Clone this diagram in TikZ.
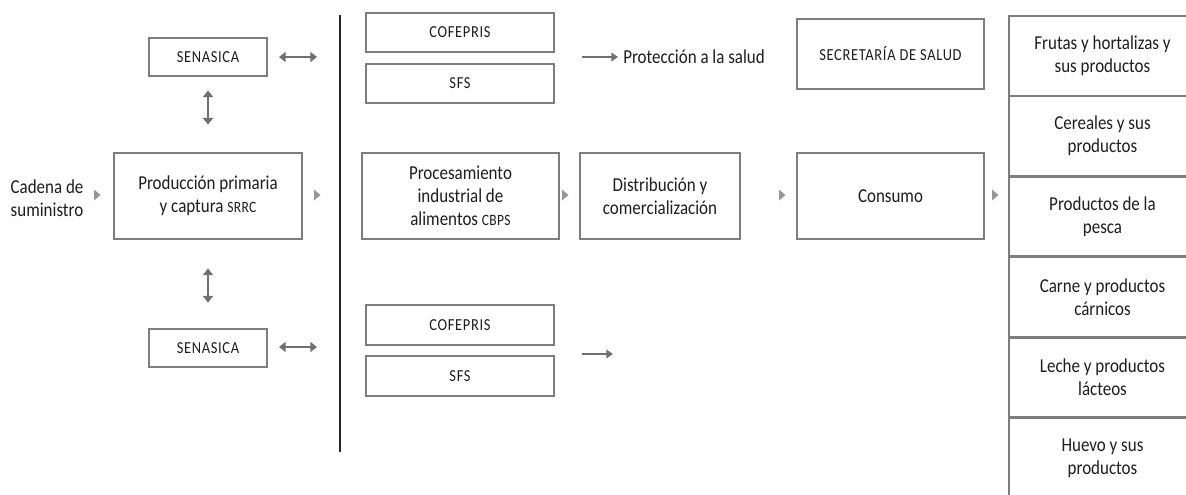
\documentclass[tikz,border=0pt]{standalone}
\usepackage{fontspec}
\setmainfont{Carlito}[FakeStretch=0.86]
\usetikzlibrary{arrows.meta,calc}
\definecolor{boxgray}{RGB}{125,125,125}
\definecolor{arrgray}{RGB}{112,112,112}
\definecolor{trigray}{RGB}{150,150,150}
\definecolor{txt}{RGB}{30,30,30}
\newcommand{\mainsz}{\fontsize{14.8}{17.3}\selectfont}
\newcommand{\capsname}[1]{{\fontsize{12.6}{14}\selectfont\addfontfeature{LetterSpace=4}#1}}
\newcommand{\minicaps}[1]{{\fontsize{11.8}{13}\selectfont\addfontfeature{LetterSpace=2}#1}}
\begin{document}
\begin{tikzpicture}[x=0.75pt,y=-0.75pt,
  box/.style 2 args={draw=boxgray,line width=2.1pt,minimum width=#1*0.75pt,minimum height=#2*0.75pt,
    inner sep=0pt,align=center,text=txt,font=\mainsz},
  lbl/.style={inner sep=0pt,align=center,text=txt,font=\mainsz},
  dbl/.style={draw=arrgray,line width=1.9pt,{Triangle[width=7.5pt,length=5pt]}-{Triangle[width=7.5pt,length=5pt]}},
  sgl/.style={draw=arrgray,line width=1.5pt,-{Triangle[width=6.5pt,length=5pt]}},
  tri/.style={fill=trigray},
  divider/.style={draw=black!85,line width=0.8pt}]
\clip (0,0) rectangle (1186,494);
\fill[white] (0,0) rectangle (1186,494);

% left part
\node[lbl] (cadena) at (47,198) {Cadena de\\suministro};
\node[box={118}{38}] (sen1) at (208,57) {\capsname{SENASICA}};
\node[box={118}{38}] (sen2) at (208,348) {\capsname{SENASICA}};
\node[box={188}{86}] (prod) at (208,196) {Producción primaria\\y captura \minicaps{SRRC}};

% divider
\coordinate (vtop) at (340,15);
\coordinate (vbot) at (340,452);
\draw[divider] (vtop) -- (vbot);

% middle column
\node[box={188}{39}] (cof1) at (460,32.5) {\capsname{COFEPRIS}};
\node[box={188}{39}] (sfs1) at (460,83.5) {\capsname{SFS}};
\node[box={188}{40}] (cof2) at (460,325) {\capsname{COFEPRIS}};
\node[box={188}{40}] (sfs2) at (460,376) {\capsname{SFS}};
\node[box={197}{86}] (proc) at (460.5,196) {Procesamiento\\industrial de\\alimentos \minicaps{CBPS}};
\node[box={160}{86}] (dist) at (660,196) {Distribución y\\comercialización};
\node[box={187}{86}] (cons) at (890.5,196) {Consumo};
\node[box={187}{70}] (secr) at (890.5,54) {\capsname{SECRETARÍA DE SALUD}};
\node[lbl,anchor=west] (prot) at (623,57) {Protección a la salud};

% right column
\node[box={187}{80}] (r1) at (1102.5,56) {Frutas y hortalizas y\\sus productos};
\node[box={187}{80}] (r2) at (1102.5,136) {Cereales y sus\\productos};
\node[box={187}{80}] (r3) at (1102.5,216.5) {Productos de la\\pesca};
\node[box={187}{80}] (r4) at (1102.5,297) {Carne y productos\\cárnicos};
\node[box={187}{80}] (r5) at (1102.5,377.5) {Leche y productos\\lácteos};
\node[box={187}{80}] (r6) at (1102.5,458) {Huevo y sus\\productos};

% arrows
\coordinate (a1s) at (279,57);
\coordinate (a1e) at (317,57);
\draw[dbl] (a1s) -- (a1e);
\coordinate (a4s) at (279,347);
\coordinate (a4e) at (317,347);
\draw[dbl] (a4s) -- (a4e);
\draw[dbl] ($(sen1.south)+(0,13)$) -- ($(prod.north)+(0,-27)$);
\draw[dbl] ($(prod.south)+(0,28)$) -- ($(sen2.north)+(0,-25)$);
\coordinate (a5s) at (582,57);
\draw[sgl] (a5s) -- ($(prot.west)+(-5,0)$);
\coordinate (a6s) at (582,354);
\coordinate (a6e) at (613,354);
\draw[sgl] (a6s) -- (a6e);

% flow triangles
\foreach \n/\x in {t1/97,t2/317,t3/565,t4/782,t5/995}{
  \coordinate (\n) at (\x,195);
  \fill[tri] (\n) ++(-3,-5.5) -- ++(6.5,5.5) -- ++(-6.5,5.5) -- cycle;
}
\end{tikzpicture}
\end{document}
